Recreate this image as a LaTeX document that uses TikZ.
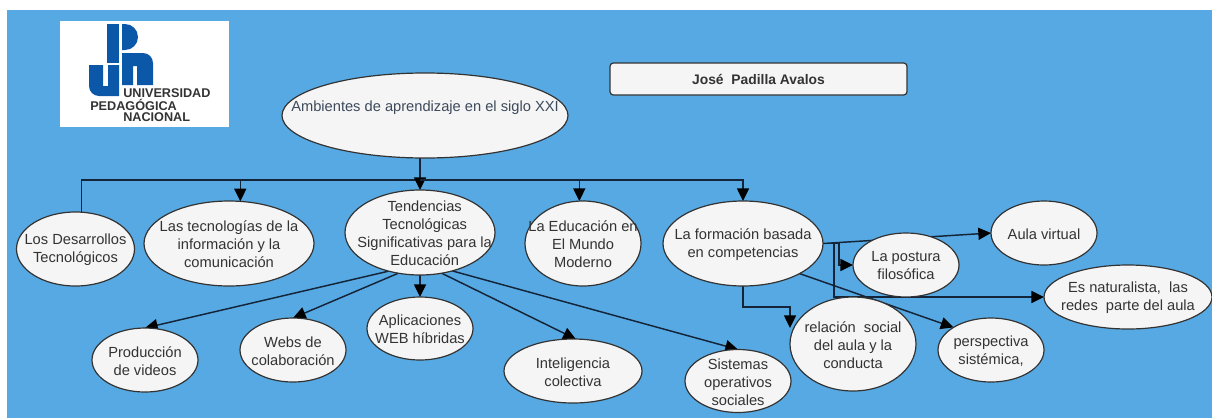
\documentclass[tikz,border=0pt]{standalone}
\usepackage{fontspec}
\setmainfont{Liberation Sans}
\usetikzlibrary{shapes.geometric,arrows.meta}
\definecolor{bgblue}{HTML}{57A9E3}
\definecolor{nodefill}{HTML}{F5F5F5}
\definecolor{ink}{HTML}{333333}
\definecolor{slateink}{HTML}{3D4A5C}
\definecolor{logoblue}{HTML}{0B57A8}
\definecolor{wire}{HTML}{14253A}
\pgfdeclarelayer{bottom}
\pgfdeclarelayer{wires}
\pgfsetlayers{bottom,wires,main}
\tikzset{
 x=0.75pt,y=-0.75pt,
 oval/.style={ellipse,draw=ink,line width=0.9pt,fill=nodefill,inner sep=0pt,outer sep=0pt},
 ovtext/.style={text=ink,align=center,inner sep=0pt,yshift=-0.6pt,font=\fontsize{11}{13.5}\selectfont},
 conn/.style={draw=wire,line width=1.1pt,-{Triangle[length=9.5pt,width=9pt,color=black]}},
 plain/.style={draw=wire,line width=1.1pt},
 logotext/.style={font=\bfseries\fontsize{9.5}{10}\selectfont,text=black!80,inner sep=0pt,anchor=west}
}
\newcommand{\ov}[7][]{\node[oval,minimum width=#5*1.5pt,minimum height=#6*1.5pt,label={[ovtext,#1]center:#7}] (#2) at (#3,#4) {};}
\begin{document}
\begin{tikzpicture}
\useasboundingbox (0,0) rectangle (1212,418);
\begin{pgfonlayer}{bottom}
\fill[white] (0,0) rectangle (1212,418);
\fill[bgblue] (7,10) rectangle (1212,418);
\end{pgfonlayer}
% logo
\fill[white] (60,21) rectangle (229,127);
\fill[logoblue] (107,24) rectangle (119,63);
\fill[logoblue] (122,24) -- (125,24) arc[start angle=-90,end angle=90,x radius=13,y radius=13] -- (122,50) -- cycle;
\fill[logoblue] (89,65) -- (103,65) -- (103,86) -- (108,86) -- (108,65) -- (119,65) -- (119,96) -- (99,96) arc[start angle=90,end angle=180,radius=10] -- cycle;
\fill[logoblue] (122,53) -- (143,53) arc[start angle=-90,end angle=0,radius=10] -- (153,85) -- (137,85) -- (137,66) -- (133,66) -- (133,85) -- (122,85) -- cycle;
\node[logotext] (lu) at (123,93) {UNIVERSIDAD};
\node[logotext] (lp) at (90,105) {PEDAGÓGICA};
\node[logotext] (ln) at (123,117) {NACIONAL};
% title box
\node[draw=ink,line width=0.9pt,fill=nodefill,text=ink,rounded corners=2.5pt,minimum width=297*0.75pt,minimum height=32*0.75pt,inner sep=0pt,font=\bfseries\fontsize{10.4}{12}\selectfont] (name) at (758.5,79) {José\ \ Padilla Avalos};
% nodes
\ov[yshift=6.2pt,text=slateink]{main}{425}{115.5}{143}{42.5}{Ambientes de aprendizaje en el siglo XXI}
\ov{des}{75.5}{249}{59}{37}{Los Desarrollos\\Tecnológicos}
\ov{tec}{229}{243.5}{85}{42.5}{Las tecnologías de la\\información y la\\comunicación}
\ov[xshift=3.5pt]{ten}{420}{232.5}{75}{42.5}{Tendencias\\Tecnológicas\\Significativas para la\\Educación}
\ov{edu}{583}{243.5}{58}{42.5}{La Educación en\\El Mundo\\Moderno}
\ov{for}{743}{243.5}{80}{42.5}{La formación basada\\en competencias}
\ov{pos}{906}{265}{53}{32}{La postura\\filosófica}
\ov{aul}{1044}{233}{53}{32}{Aula virtual}
\ov{nat}{1128}{297}{84}{32}{Es naturalista,\ \ las\\redes\ \ parte del aula}
\ov{rel}{853}{344}{63}{47}{relación\ \ social\\del aula y la\\conducta}
\ov{per}{991}{350}{53}{32}{perspectiva\\sistémica,}
\ov{sis}{738}{381}{53}{31.5}{Sistemas\\operativos\\sociales}
\ov{int}{573}{371}{69}{32}{Inteligencia\\colectiva}
\ov{apl}{420}{328.5}{53}{31.5}{Aplicaciones\\WEB híbridas}
\ov{web}{293}{350}{53}{32}{Webs de\\colaboración}
\ov{pro}{145}{360}{53}{32}{Producción\\de videos}
\coordinate (trunk) at (420,158);
\coordinate (bus) at (420,180);
\coordinate (reltip) at (790,328);
% connectors
\begin{pgfonlayer}{wires}
\draw[plain] (trunk) -- (bus);
\draw[plain] (bus) -| (des.81);
\draw[conn] (bus) -| (tec.75);
\draw[conn] (trunk) -- (ten.north);
\draw[conn] (bus) -| (edu.95);
\draw[conn] (bus) -| (for.north);
\draw[conn] (ten.231) -- (pro.north);
\draw[conn] (ten.242) -- (web.north);
\draw[conn] (ten.south) -- (apl.north);
\draw[conn] (ten.-62) -- (int.85);
\draw[conn] (ten.-50) -- (sis.north);
\draw[conn] (for.east) -- (aul.west);
\draw[conn] (for.east) -- ++(16,0) |- (pos.west);
\draw[conn] (for.east) -- ++(11,0) |- (nat.west);
\draw[conn] (for.south) -- ++(0,21) -| (reltip);
\draw[conn] (for.-28) -- (per.149);
\end{pgfonlayer}
\end{tikzpicture}
\end{document}
